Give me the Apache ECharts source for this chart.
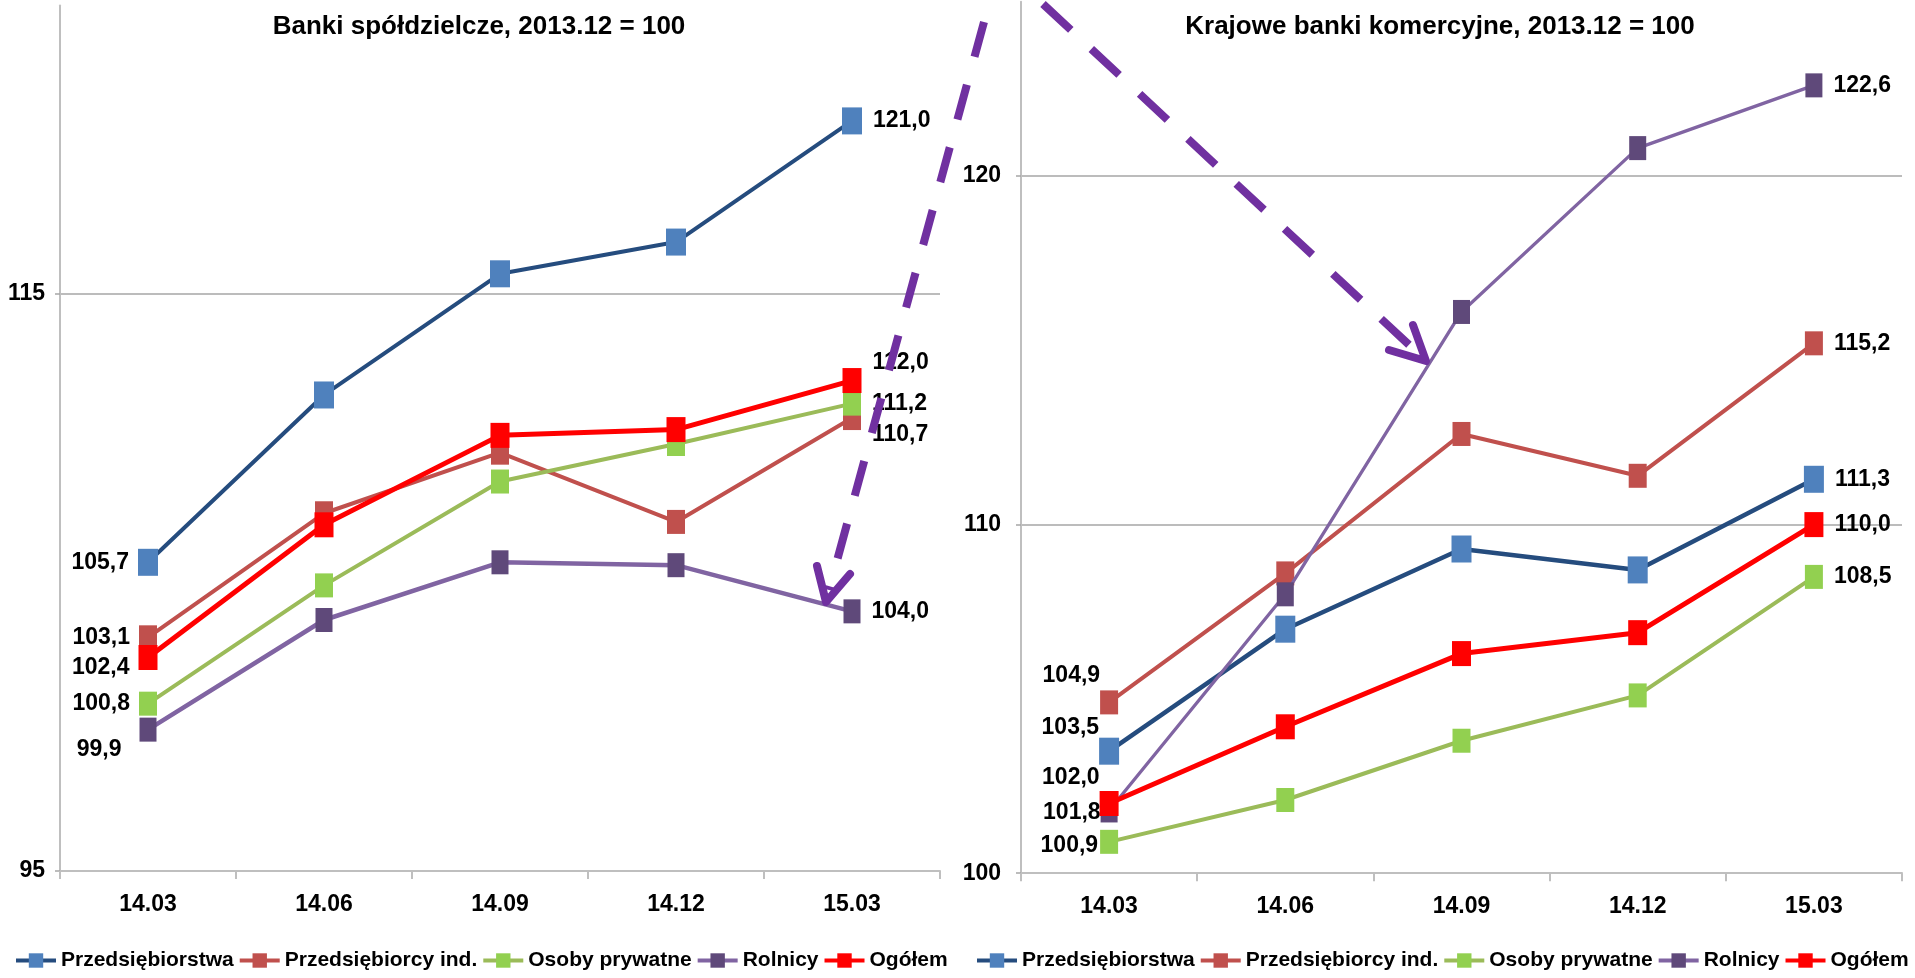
<!DOCTYPE html>
<html><head><meta charset="utf-8">
<script src="https://cdn.jsdelivr.net/npm/echarts@6/dist/echarts.min.js"></script>
<style>html,body{margin:0;padding:0;background:#fff;}#c{width:1915px;height:978px;}</style>
</head><body><div id="c"></div>
<script>
// ---------- data ----------
const categories = ['14.03', '14.06', '14.09', '14.12', '15.03'];
const seriesNames = ['Przedsiębiorstwa', 'Przedsiębiorcy ind.', 'Osoby prywatne', 'Rolnicy', 'Ogółem'];
const titleLeft = 'Banki spółdzielcze, 2013.12 = 100';
const titleRight = 'Krajowe banki komercyjne, 2013.12 = 100';

// Banki spółdzielcze
const coopPrzedsiebiorstwa = [105.7, 111.5, 115.7, 116.8, 121.0];
const coopPrzedsiebiorcyInd = [103.1, 107.4, 109.5, 107.1, 110.7];
const coopOsobyPrywatne = [100.8, 104.9, 108.5, 109.8, 111.2];
const coopRolnicy = [99.9, 103.7, 105.7, 105.6, 104.0];
const coopOgolem = [102.4, 107.0, 110.1, 110.3, 112.0];

// Krajowe banki komercyjne
const comPrzedsiebiorstwa = [103.5, 107.0, 109.3, 108.7, 111.3];
const comPrzedsiebiorcyInd = [104.9, 108.6, 112.6, 111.4, 115.2];
const comOsobyPrywatne = [100.9, 102.1, 103.8, 105.1, 108.5];
const comRolnicy = [101.8, 108.0, 116.1, 120.8, 122.6];
const comOgolem = [102.0, 104.2, 106.3, 106.9, 110.0];

// axis ranges / ticks
const leftAxis = { min: 95, max: 125, interval: 20 };
const rightAxis = { min: 100, max: 125, interval: 10 };

// ---------- styles ----------
const FONT = "'Liberation Sans', Arial, sans-serif";
const lineColors = ['#254C7E', '#C0504D', '#9BBB59', '#8064A2', '#FF0000'];
const markColors = ['#4F81BD', '#C0504D', '#92D050', '#5F497A', '#FF0000'];
const markSizes = [[20, 27], [18, 24], [18, 24], [17, 24], [19, 25]];
const widthsLeft = [4, 4, 4, 4.5, 5];
const widthsRight = [4.5, 4, 4, 3.3, 5];
// label offsets for first / last point (per series)
const offLeftFirst = [[0, 0], [0, 0], [0, 0], [-9, 20], [0, 10]];
const offLeftLast = [[0, 0], [0, 17], [0, 0], [0, 0], [0, -18]];
const offRightFirst = [[2, -24], [2, -27], [0, 4], [2, 2], [2, -26]];
const offRightLast = [[0, 0], [0, 0], [0, 0], [0, 0], [0, 0]];

const fmt = v => v.toFixed(1).replace('.', ',');
const LABEL_SIZE = 23;

function buildSeries(arrs, gridIdx, widths, offFirst, offLast, firstDist) {
  return arrs.map((arr, i) => ({
    name: seriesNames[i],
    type: 'line',
    xAxisIndex: gridIdx, yAxisIndex: gridIdx,
    symbol: 'rect', symbolSize: markSizes[i],
    lineStyle: { color: lineColors[i], width: widths[i] },
    itemStyle: { color: markColors[i] },
    z: 2 + i,
    animation: false,
    data: arr.map((v, j) => {
      const item = { value: v };
      const common = { show: true, formatter: p => fmt(p.value), fontFamily: FONT, fontWeight: 'bold', fontSize: LABEL_SIZE, color: '#000' };
      if (j === 0) item.label = Object.assign({ position: 'left', distance: firstDist, offset: offFirst[i] }, common);
      else if (j === arr.length - 1) item.label = Object.assign({ position: 'right', distance: 11, offset: offLast[i] }, common);
      return item;
    })
  }));
}

const textStyle = { fontFamily: FONT, fontWeight: 'bold', fontSize: LABEL_SIZE, color: '#000' };

function xAxis(gridIndex) {
  return {
    type: 'category', gridIndex, data: categories, boundaryGap: true,
    axisLine: { lineStyle: { color: '#BFBFBF', width: 2 } },
    axisTick: { show: true, interval: 0, length: 8, lineStyle: { color: '#BFBFBF', width: 2 } },
    axisLabel: Object.assign({ margin: 22, interval: 0 }, textStyle),
    splitLine: { show: false }
  };
}
function yAxis(gridIndex, ax, margin) {
  return {
    type: 'value', gridIndex, min: ax.min, max: ax.max, interval: ax.interval,
    axisLine: { show: true, lineStyle: { color: '#BFBFBF', width: 2 } },
    axisTick: { show: true, length: 5, lineStyle: { color: '#A6A6A6', width: 1.5 } },
    axisLabel: Object.assign({ margin: margin, showMaxLabel: false }, textStyle),
    splitLine: { show: true, showMinLine: false, showMaxLine: false, lineStyle: { color: '#A6A6A6', width: 1.5 } }
  };
}

const legendBase = {
  data: seriesNames, bottom: 7, width: 1000, padding: 0, orient: 'horizontal',
  itemWidth: 40, itemHeight: 18, itemGap: 4,
  lineStyle: { width: 4 },
  textStyle: { fontFamily: FONT, fontWeight: 'bold', fontSize: 21, color: '#000' },
  selectedMode: false
};

const arrowStyle = { stroke: '#7030A0', lineWidth: 8, fill: null };

const option = {
  backgroundColor: '#fff',
  animation: false,
  grid: [
    { left: 60, top: 5.5, width: 880, height: 865.5 },
    { left: 1021, top: 1.7, width: 881, height: 871.5 }
  ],
  xAxis: [xAxis(0), xAxis(1)],
  yAxis: [yAxis(0, leftAxis, 15), yAxis(1, rightAxis, 20)],
  legend: [
    Object.assign({ left: 14 }, legendBase),
    Object.assign({ left: 975 }, legendBase)
  ],
  series: [
    ...buildSeries([coopPrzedsiebiorstwa, coopPrzedsiebiorcyInd, coopOsobyPrywatne, coopRolnicy, coopOgolem], 0, widthsLeft, offLeftFirst, offLeftLast, 9),
    ...buildSeries([comPrzedsiebiorstwa, comPrzedsiebiorcyInd, comOsobyPrywatne, comRolnicy, comOgolem], 1, widthsRight, offRightFirst, offRightLast, 2)
  ],
  graphic: [
    { type: 'text', z: 50, style: { x: 479, y: 27, text: titleLeft, textAlign: 'center', textVerticalAlign: 'middle', font: 'bold 26px ' + FONT, fill: '#000' } },
    { type: 'text', z: 50, style: { x: 1440, y: 27, text: titleRight, textAlign: 'center', textVerticalAlign: 'middle', font: 'bold 26px ' + FONT, fill: '#000' } },
    { type: 'polyline', z: 100, shape: { points: [[984, 22], [829, 590]] }, style: Object.assign({ lineDash: [36, 29], lineCap: 'butt' }, arrowStyle) },
    { type: 'polyline', z: 100, shape: { points: [[817, 566], [826, 602], [850, 574]] }, style: Object.assign({ lineCap: 'round', lineJoin: 'round' }, arrowStyle) },
    { type: 'polyline', z: 100, shape: { points: [[1043, 4], [1420, 355]] }, style: Object.assign({ lineDash: [38, 28], lineCap: 'butt' }, arrowStyle) },
    { type: 'polyline', z: 100, shape: { points: [[1389, 350], [1426, 361], [1413, 325]] }, style: Object.assign({ lineCap: 'round', lineJoin: 'round' }, arrowStyle) }
  ]
};

const chart = echarts.init(document.getElementById('c'), null, { renderer: 'canvas' });
chart.setOption(option);
</script>
</body></html>
